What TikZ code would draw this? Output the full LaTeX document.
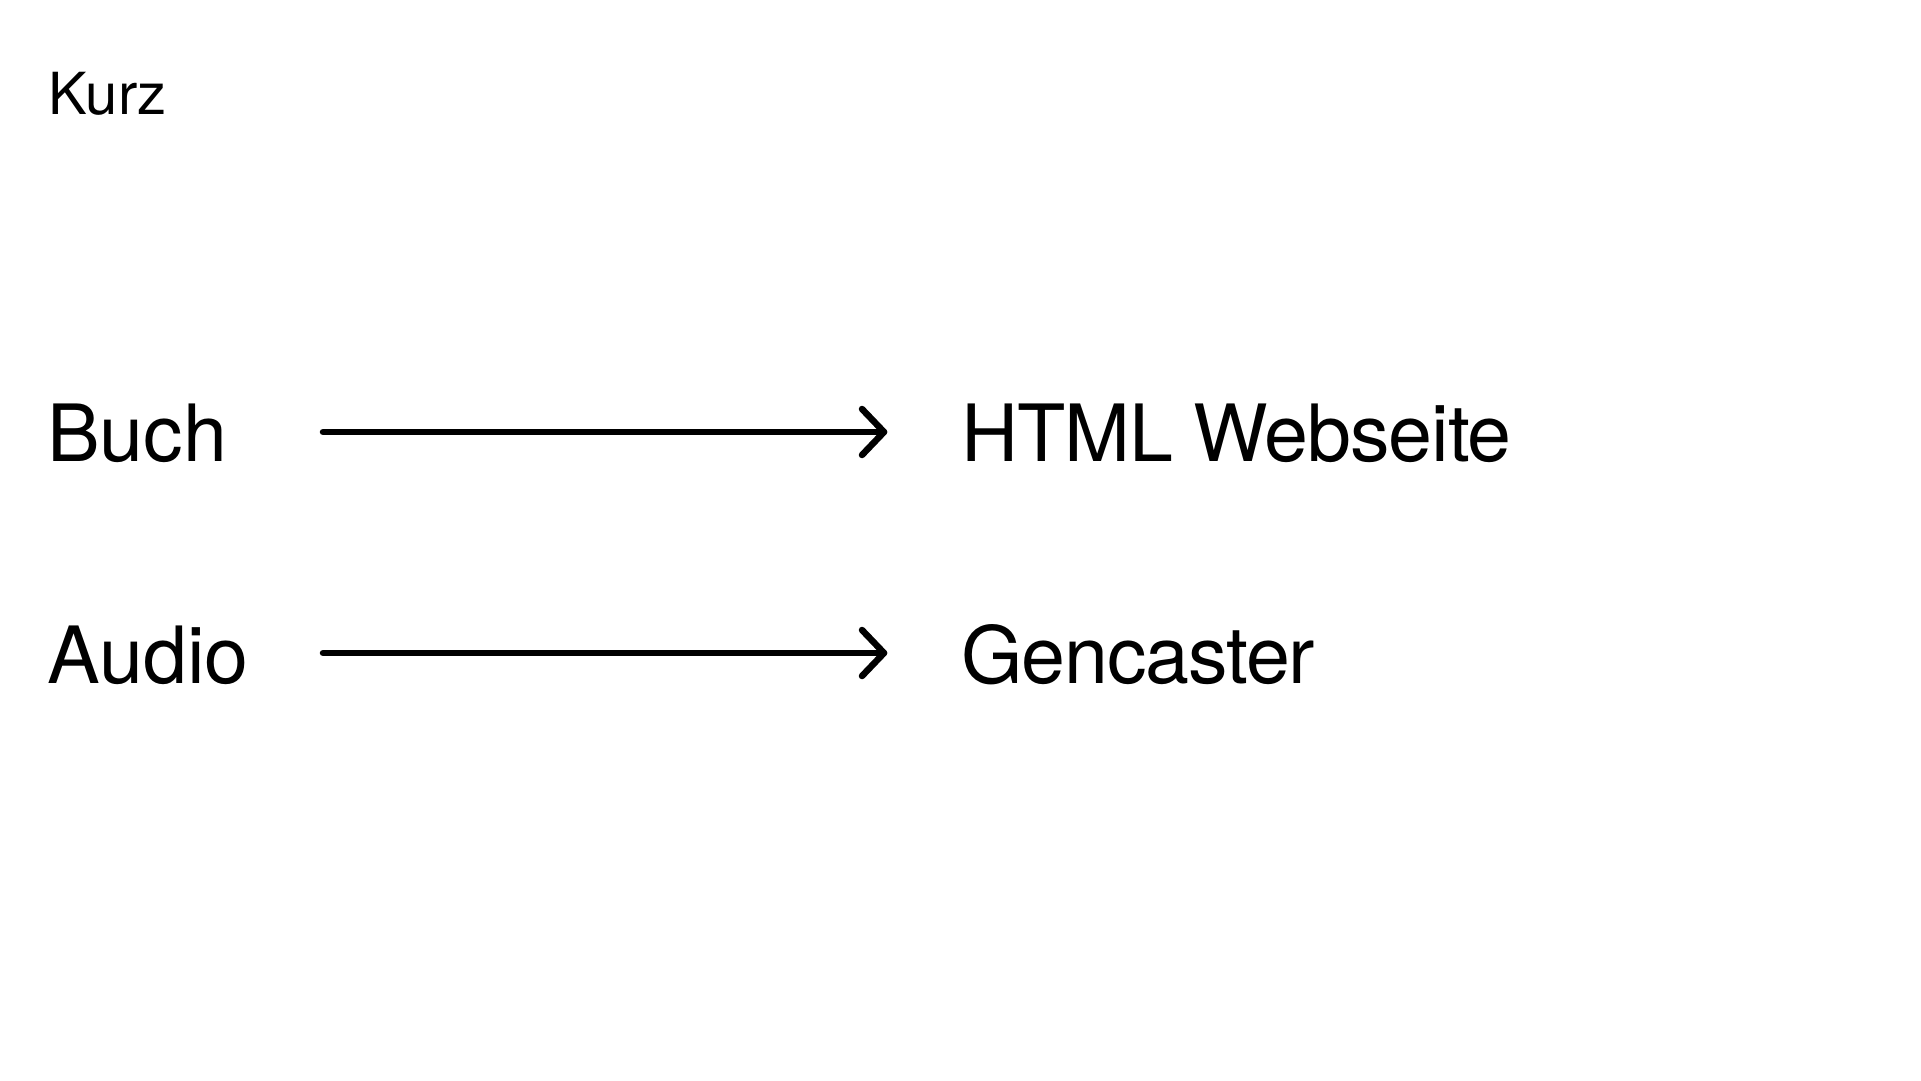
\documentclass[tikz,border=0pt]{standalone}
\usepackage{fontspec}
\setmainfont{TeX Gyre Heros}
\newfontfamily\tightheros[LetterSpace=-1.4]{TeX Gyre Heros}
\begin{document}
\begin{tikzpicture}[x=1pt,y=-1pt,
  big/.style={anchor=base west,inner sep=0pt,font=\fontsize{79}{92}\selectfont},
  bigr/.style={anchor=base west,inner sep=0pt,font=\tightheros\fontsize{79}{92}\selectfont},
  title/.style={anchor=base west,inner sep=0pt,font=\fontsize{58}{68}\selectfont},
  conn/.style={line width=6.5pt,line cap=round,line join=round}]
\useasboundingbox[fill=white] (0,0) rectangle (1921,1080);
\node[title] (kurz) at (48,114) {Kurz};
\node[big] (buch) at (47,461) {Buch};
\node[big] (audio) at (47,683) {Audio};
\node[bigr] (html) at (961,461) {HTML Webseite};
\node[bigr] (gen) at (961,683) {Gencaster};
\coordinate (a1s) at (323,432);
\coordinate (a1e) at (884,432);
\coordinate (a2s) at (323,653);
\coordinate (a2e) at (884,653);
\draw[conn] (a1s) -- (a1e);
\draw[conn] ([shift={(-22,-23)}]a1e) -- (a1e) -- ([shift={(-22,23)}]a1e);
\draw[conn] (a2s) -- (a2e);
\draw[conn] ([shift={(-22,-23)}]a2e) -- (a2e) -- ([shift={(-22,23)}]a2e);
\end{tikzpicture}
\end{document}
